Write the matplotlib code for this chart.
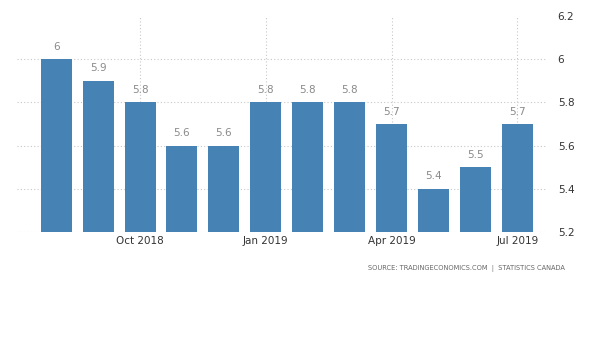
import matplotlib.pyplot as plt

months = ["Aug 2018", "Sep 2018", "Oct 2018", "Nov 2018", "Dec 2018", "Jan 2019",
          "Feb 2019", "Mar 2019", "Apr 2019", "May 2019", "Jun 2019", "Jul 2019"]
values = [6.0, 5.9, 5.8, 5.6, 5.6, 5.8, 5.8, 5.8, 5.7, 5.4, 5.5, 5.7]
xtick_idx = [2, 5, 8, 11]
xtick_labels = ["Oct 2018", "Jan 2019", "Apr 2019", "Jul 2019"]
yticks = [5.2, 5.4, 5.6, 5.8, 6.0, 6.2]
ytick_labels = ["5.2", "5.4", "5.6", "5.8", "6", "6.2"]

fig = plt.figure(figsize=(6, 3.55), dpi=100)
ax = fig.add_axes([0.028, 0.3465, 0.883, 0.608])

x = list(range(len(values)))
ax.bar(x, [v - 5.2 for v in values], bottom=5.2, width=0.74, color="#4682b4", zorder=2)
for xi, v in zip(x, values):
    ax.text(xi, v + 0.035, f"{v:g}", ha="center", va="bottom", fontsize=7.5, color="#8a8a8a")

ax.set_xlim(-0.94, 11.7)
ax.set_ylim(5.2, 6.2)
ax.set_xticks(xtick_idx)
ax.set_xticklabels(xtick_labels)
ax.set_yticks(yticks)
ax.set_yticklabels(ytick_labels)
ax.yaxis.tick_right()
ax.tick_params(axis="both", length=0, labelsize=7.5, colors="#333333")
ax.tick_params(axis="y", pad=8)
ax.tick_params(axis="x", pad=3)
ax.grid(True, linestyle=(0, (1, 2)), color="#c8c8c8", linewidth=0.8, zorder=0)
# no gridline at the top value
ax.get_ygridlines()[-1].set_visible(False)
for s in ax.spines.values():
    s.set_visible(False)

fig.text(0.942, 0.245, "SOURCE: TRADINGECONOMICS.COM  |  STATISTICS CANADA",
         ha="right", va="center", fontsize=4.8, color="#666666")

fig.savefig("out.png", dpi=100)
